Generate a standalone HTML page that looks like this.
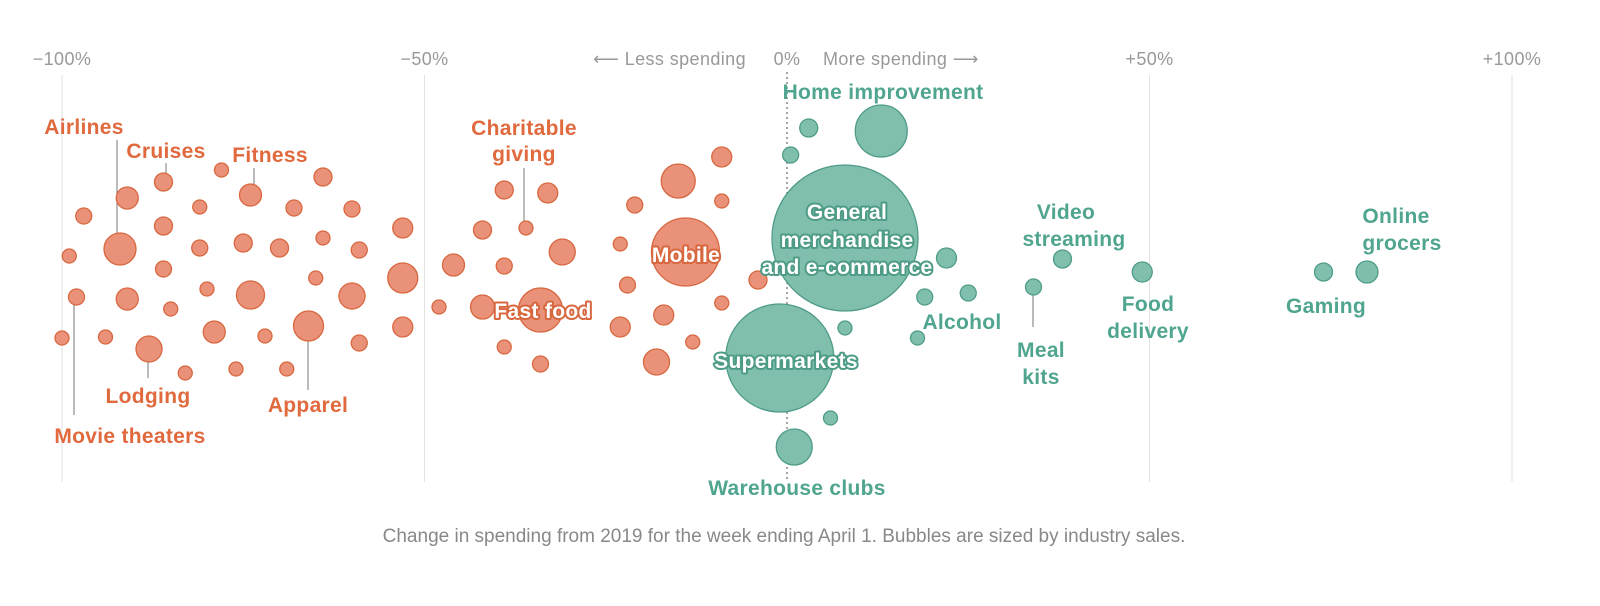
<!DOCTYPE html>
<html><head><meta charset="utf-8">
<style>
html,body{margin:0;padding:0;background:#fff;}
svg{display:block;font-family:"Liberation Sans",sans-serif;}
.tick{fill:#999;font-size:18px;letter-spacing:0.4px;}
.lab{font-size:21px;font-weight:bold;letter-spacing:0.3px;}
.o{fill:#e0693e;}
.g{fill:#4fa58f;}
.halo{fill:#fff;stroke-width:4px;paint-order:stroke;stroke-linejoin:round;}
</style></head>
<body>
<svg id="chart" width="1600" height="606"></svg>
<script>
// Data: change in spending (%) and relative industry sales (bubble area)
const declineChange=[-97,-99,-98,-100,-91,-92,-91,-94,-88,-86,-86,-86,-85,-83,-81,-81,-80,-79,-78,-75,-74,-76,-74,-72,-70,-68,-69,-65,-66,-64,-64,-60,-59,-60,-59,-53,-53,-53,-48,-46,-42,-42,-39,-39,-39,-36,-33,-31,-34,-34,-21,-23,-22,-23,-18,-15,-14,-17,-9,-9,-13,-9,-4];
const declineSales=[64,49,64,49,121,256,121,49,169,81,81,64,49,49,49,64,49,121,49,81,196,49,121,49,81,64,49,49,225,81,49,64,64,169,64,100,225,100,49,121,81,144,81,64,49,49,100,169,484,64,64,49,64,100,169,289,1156,100,100,49,49,49,81];
const declineY=[216,256,297,338,198,249,299,337,349,182,226,269,309,373,207,248,289,332,170,243,295,369,195,336,248,208,369,278,326,177,238,209,250,296,343,228,278,327,307,265,230,307,190,266,347,228,193,252,310,364,205,244,285,327,362,181,252,315,157,201,342,303,280];
const growthChange=[3,13,0.5,8,22,19,25,8,18,-1,6,1,34,38,49,74,80];
const growthSales=[81,676,64,5329,100,64,64,49,49,2916,49,324,64,81,100,81,121];
const growthY=[128,131,155,238,258,297,293,328,338,358,418,447,287,259,272,272,272];
const tickVals=[-100,-50,0,50,100];
const tickText=["−100%","−50%","0%","+50%","+100%"];

const NS="http://www.w3.org/2000/svg";
const svg=document.getElementById('chart');
const x=v=>787+v*7.25;
const r=s=>Math.sqrt(s);
function el(t,a,p){const e=document.createElementNS(NS,t);for(const k in a)e.setAttribute(k,a[k]);(p||svg).appendChild(e);return e;}

const gGrid=el('g',{});


tickVals.forEach((v,i)=>{
  const ln=el('line',{x1:x(v),x2:x(v),y1:v===0?72:75,y2:482,stroke:v===0?'#777':'#e2e2e2','stroke-width':v===0?1.3:1,'stroke-dasharray':v===0?'2,3':'none'},gGrid);
  
  
  const t=el('text',{x:x(v),y:65,'text-anchor':'middle',class:'tick'});
  t.textContent=tickText[i];
  
  
});
let t=el('text',{x:746,y:65,'text-anchor':'end',class:'tick'});t.textContent='⟵ Less spending';


t=el('text',{x:823,y:65,'text-anchor':'start',class:'tick'});t.textContent='More spending ⟶';



// leader lines
[[117,140,233],[166,163,173],[254,168,184],[524,168,221],[74,305,415],[148,362,378],[308,341,390],[1033,295,327]].forEach(l=>{
  const ln=el('line',{x1:l[0],x2:l[0],y1:l[1],y2:l[2],stroke:'#777','stroke-width':1});
  
  
});

declineChange.forEach((v,i)=>{
  const c=el('circle',{cx:x(v),cy:declineY[i],r:r(declineSales[i]),fill:'#e99279',stroke:'#d8673f','stroke-width':1.3});
  
  
});
growthChange.forEach((v,i)=>{
  const c=el('circle',{cx:x(v),cy:growthY[i],r:r(growthSales[i]),fill:'#80bfae',stroke:'#4e9c87','stroke-width':1.3});
  
  
});

const labels=[
 ['Airlines',84,134,'o',0],['Cruises',166,158,'o',0],['Fitness',270,162,'o',0],['Charitable',524,135,'o',0],['giving',524,161,'o',0],
 ['Mobile',686,262,'o',1],['Fast food',543,318,'o',1],['Lodging',148,403,'o',0],['Apparel',308,412,'o',0],['Movie theaters',130,443,'o',0],
 ['Home improvement',883,99,'g',0],['General',847,219,'g',1],['merchandise',847,247,'g',1],['and e-commerce',847,274,'g',1],
 ['Supermarkets',786,368,'g',1],['Warehouse clubs',797,495,'g',0],['Alcohol',962,329,'g',0],['Video',1066,219,'g',0],['streaming',1074,246,'g',0],
 ['Meal',1041,357,'g',0],['kits',1041,384,'g',0],['Food',1148,311,'g',0],['delivery',1148,338,'g',0],['Gaming',1326,313,'g',0],['Online',1396,223,'g',0],['grocers',1402,250,'g',0]
];
labels.forEach(l=>{
  const tt=el('text',{x:l[1],y:l[2],'text-anchor':'middle',class:'lab '+(l[4]?'halo':l[3])});
  if(l[4]) tt.setAttribute('stroke',l[3]==='o'?'#d8673f':'#4e9c87');
  tt.textContent=l[0];
  
  
});
t=el('text',{x:784,y:542,'text-anchor':'middle',fill:'#888','font-size':'19px'});
t.textContent='Change in spending from 2019 for the week ending April 1. Bubbles are sized by industry sales.';


</script>
</body></html>
